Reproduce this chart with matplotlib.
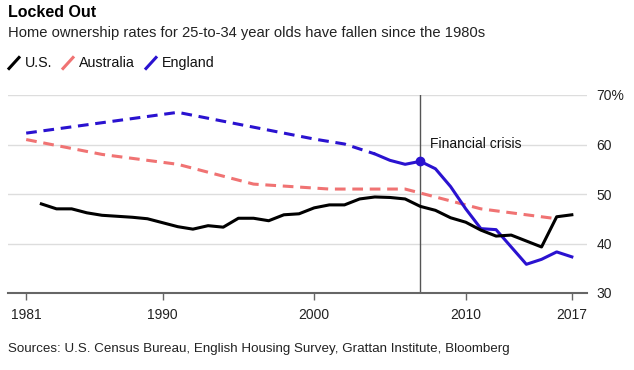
import matplotlib.pyplot as plt
from matplotlib.lines import Line2D

plt.rcParams['font.family'] = ['Liberation Sans', 'DejaVu Sans']

# U.S. (annual)
us_years = list(range(1982, 2018))
us_vals = [48.0, 47.0, 47.0, 46.2, 45.7, 45.5, 45.3, 45.0, 44.2, 43.4, 42.9, 43.6,
           43.3, 45.1, 45.1, 44.6, 45.8, 46.0, 47.2, 47.8, 47.8, 49.0, 49.4, 49.3,
           49.0, 47.5, 46.7, 45.2, 44.3, 42.7, 41.5, 41.7, 40.5, 39.3, 45.4, 45.8]

# Australia (census years)
au_years = [1981, 1986, 1991, 1996, 2001, 2006, 2011, 2016]
au_vals = [61.0, 58.0, 56.0, 52.0, 51.0, 51.0, 47.0, 45.0]

# England: sparse early surveys (dashed), annual afterwards (solid)
en_gap_years = [1981, 1991, 1995, 1998, 2000, 2002, 2004]
en_gap_vals = [62.3, 66.5, 64.1, 62.3, 61.1, 60.1, 58.1]
en_years = list(range(2004, 2018))
en_vals = [58.1, 56.8, 56.0, 56.6, 55.1, 51.5, 47.0, 43.0, 42.8, 39.3, 35.8, 36.8, 38.3, 37.3]

crisis_year = 2007
crisis_val = 56.6

x_ticks = [1981, 1990, 2000, 2010, 2017]
y_ticks = [30, 40, 50, 60, 70]
y_labels = ['30', '40', '50', '60', '70%']

black = '#000000'
salmon = '#f07373'
blue = '#2a12d0'
grid_col = '#dddddd'
axis_col = '#666666'

fig = plt.figure(figsize=(6.34, 3.70), dpi=100)
ax = fig.add_axes([8 / 634, 1 - 293 / 370, 579 / 634, 198 / 370])

for y in y_ticks[1:]:
    ax.axhline(y, color=grid_col, lw=1.0, zorder=0)

ax.axvline(crisis_year, color='#555555', lw=1.0, zorder=1)
ax.text(crisis_year + 0.65, 60, 'Financial crisis', fontsize=10, va='center', ha='left', color='#111111')

ax.plot(au_years, au_vals, color=salmon, lw=2.2, ls=(0, (3.5, 2.2)), zorder=2)
ax.plot(en_gap_years, en_gap_vals, color=blue, lw=2.2, ls=(0, (3.5, 2.2)), zorder=3)
ax.plot(en_years, en_vals, color=blue, lw=2.2, zorder=3, solid_joinstyle='round')
ax.plot(us_years, us_vals, color=black, lw=2.2, zorder=4, solid_joinstyle='round')
ax.plot([crisis_year], [crisis_val], 'o', color=blue, ms=6, zorder=5)

ax.set_xlim(1979.8, 2018.0)
ax.set_ylim(30, 70)
ax.set_xticks(x_ticks)
ax.set_xticklabels([str(t) for t in x_ticks])
ax.set_yticks(y_ticks)
ax.set_yticklabels(y_labels)
ax.yaxis.tick_right()
ax.tick_params(axis='y', length=0, pad=7, labelsize=10, labelcolor='#222222')
ax.tick_params(axis='x', length=5, width=1, color=axis_col, pad=6, labelsize=10, labelcolor='#222222')
for s in ['top', 'left', 'right']:
    ax.spines[s].set_visible(False)
ax.spines['bottom'].set_color(axis_col)
ax.spines['bottom'].set_linewidth(1.5)

fig.text(8 / 634, 1 - 5 / 370, 'Locked Out', fontsize=11.5, fontweight='bold', va='top', ha='left')
fig.text(8 / 634, 1 - 26 / 370, 'Home ownership rates for 25-to-34 year olds have fallen since the 1980s',
         fontsize=10.6, va='top', ha='left', color='#222222')

# legend with slanted line keys
leg_y = 1 - 63 / 370
legend_items = [('U.S.', black, 8), ('Australia', salmon, 62), ('England', blue, 145)]
for label, col, x0 in legend_items:
    fig.add_artist(Line2D([(x0 + 1) / 634, (x0 + 11) / 634], [leg_y - 5.5 / 370, leg_y + 5.5 / 370],
                          color=col, lw=2.2, transform=fig.transFigure))
    fig.text((x0 + 17) / 634, leg_y, label, fontsize=10.3, va='center', ha='left', color='#111111')

fig.text(8 / 634, 1 - 349 / 370, 'Sources: U.S. Census Bureau, English Housing Survey, Grattan Institute, Bloomberg',
         fontsize=9.6, va='center', ha='left', color='#222222')

fig.savefig('out.png', dpi=100, facecolor='white')
